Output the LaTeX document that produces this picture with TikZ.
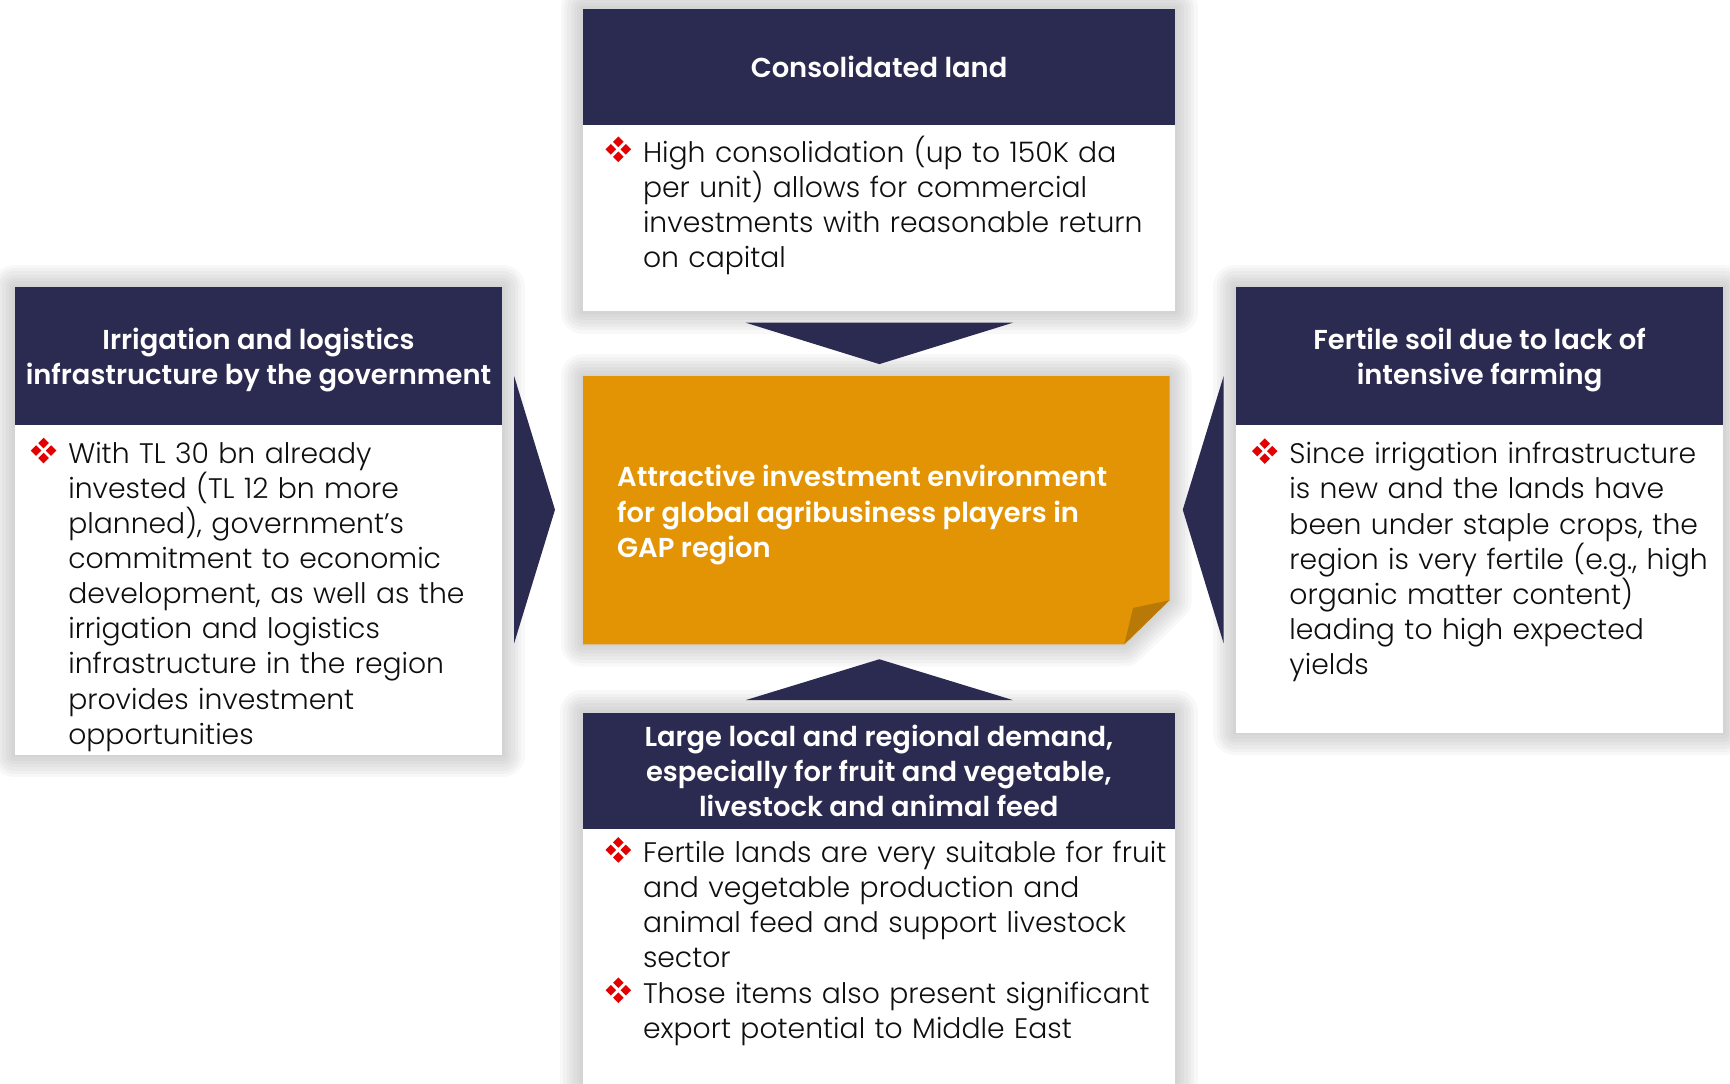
\documentclass[tikz,border=0pt]{standalone}
\usepackage{fontspec}
\setmainfont{Poppins}[UprightFont=* Light, BoldFont=* SemiBold]
\usetikzlibrary{backgrounds}

\definecolor{navy}{RGB}{43,42,80}
\definecolor{gold}{RGB}{227,148,5}
\definecolor{golddark}{RGB}{184,121,6}
\definecolor{bulred}{RGB}{226,0,0}
\definecolor{ink}{RGB}{15,15,15}
\definecolor{haze}{RGB}{150,150,150}

% red four-diamond bullet
\newcommand\dia[2]{\fill[bulred] ({#1-2.4},#2)--(#1,{#2+2.4})--({#1+2.4},#2)--(#1,{#2-2.4})--cycle;}
\newcommand\bul{\tikz[x=1pt,y=1pt,baseline=0pt]{\dia{6}{2.4}\dia{2.6}{5.8}\dia{9.4}{5.8}\dia{6}{9.2}}}
% fixed line grid inside a bullet block
\newcommand\fixgrid{\lineskiplimit=-1000pt\relax}
% bullet item: bullet in a fixed slot, text in a hanging block;
% the negative lineskip keeps consecutive items on the same line grid
\newcommand\bitem[1]{\par\lineskiplimit=0pt\lineskip=-1.87pt\relax
  \noindent\makebox[17pt][l]{\bul}%
  \parbox[t]{290pt}{\fixgrid\raggedright\rule{0pt}{13pt}#1\strut}\par}
% soft grey halo around a closed path
\newcommand\halo[1]{%
  \foreach \w in {20,17,14,11,8,5,2}{\draw[haze, line width=\w pt, opacity=0.065, line join=round] #1;}}

\tikzset{
  card/.style={fill=white, inner sep=0pt},
  hdr/.style={fill=navy, text=white, inner sep=0pt, align=center, text depth=0pt,
    font=\bfseries\fontsize{12.4}{15.7}\selectfont},
  body/.style={anchor=north west, inner sep=0pt, text width=310pt, align=left,
    text=ink, font=\fontsize{12.8}{15.9}\selectfont},
  chevron/.style={fill=navy},
}

\begin{document}
\begin{tikzpicture}[x=0.5pt,y=-0.5pt]
\useasboundingbox (0,0) rectangle (1568,982);
\begin{scope}[on background layer]
  \fill[white] (0,0) rectangle (1568,982);
\end{scope}

% cards
\node[card, minimum width=268.25pt, minimum height=137pt] (topcard) at (796.75,145) {};
\node[card, minimum width=220.7pt, minimum height=211.8pt] (leftcard) at (234.3,472.2) {};
\node[card, minimum width=221pt, minimum height=201.8pt] (rightcard) at (1341,462.2) {};
\node[card, minimum width=268.5pt, minimum height=177pt] (botcard) at (796.5,823) {};

% centre note with folded corner
\fill[gold] (528.5,341) -- (1060,341) -- (1060,544) -- (1019,584) -- (528.5,584) -- cycle;
\fill[golddark] (1060,544) -- (1027,551) -- (1019,584) -- cycle;

\begin{scope}[on background layer]
  \halo{(topcard.north west) rectangle (topcard.south east)}
  \halo{(leftcard.north west) rectangle (leftcard.south east)}
  \halo{(rightcard.north west) rectangle (rightcard.south east)}
  \halo{(botcard.north west) rectangle (botcard.south east)}
  \halo{(528.5,341) -- (1060,341) -- (1060,544) -- (1019,584) -- (528.5,584) -- cycle}
\end{scope}

% headers
\node[hdr, minimum width=268.25pt, minimum height=52.5pt] (tophdr) at (796.75,60.5) {Consolidated land};
\node[hdr, minimum width=220.7pt, minimum height=62.3pt] (lefthdr) at (234.3,322.7)
  {Irrigation and logistics\\infrastructure by the government};
\node[hdr, minimum width=221pt, minimum height=62.3pt] (righthdr) at (1341,322.7)
  {Fertile soil due to lack of\\intensive farming};
\node[hdr, minimum width=268.5pt, minimum height=52.5pt] (bothdr) at (796.5,698.5)
  {Large local and regional demand,\\especially for fruit and vegetable,\\livestock and animal feed};

% bodies
\node[body] (topbody) at (548.4,114.7) {\bitem{High consolidation (up to 150K da\\per unit) allows for commercial\\investments with reasonable return\\on capital}};
\node[body] (leftbody) at (27.5,387.8) {\bitem{With TL 30 bn already\\invested (TL 12 bn more\\planned), government’s\\commitment to economic\\development, as well as the\\irrigation and logistics\\infrastructure in the region\\provides investment\\opportunities}};
\node[body] (rightbody) at (1134.3,388.2) {\bitem{Since irrigation infrastructure\\is new and the lands have\\been under staple crops, the\\region is very fertile (e.g., high\\organic matter content)\\leading to high expected\\yields}};
\node[body] (botbody) at (548.4,749.7) {\bitem{Fertile lands are very suitable for fruit\\and vegetable production and\\animal feed and support livestock\\sector}\bitem{Those items also present significant\\export potential to Middle East}};

% centre statement
\node[anchor=north west, inner sep=0pt, align=left, text=white,
  font=\bfseries\fontsize{12.4}{15.9}\selectfont] (goal) at (559,418.7)
  {\strut Attractive investment environment\\for global agribusiness players in\\GAP region};

% pointers toward the centre
\fill[chevron] (676,292.5) -- (918,292.5) -- (797,330) -- cycle;
\fill[chevron] (676,634.5) -- (918,634.5) -- (797,597.5) -- cycle;
\fill[chevron] (466,341) -- (503,462) -- (466,583) -- cycle;
\fill[chevron] (1109,341) -- (1072,462) -- (1109,583) -- cycle;
\end{tikzpicture}
\end{document}
